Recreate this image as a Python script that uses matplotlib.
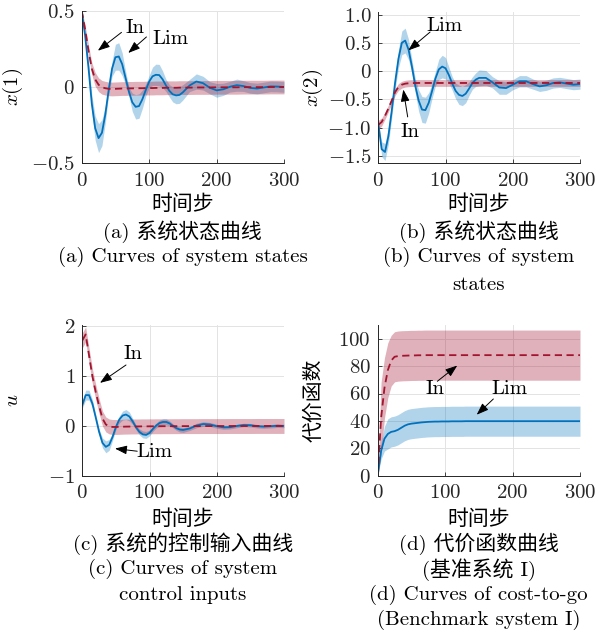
import numpy as np
import matplotlib
matplotlib.use("Agg")
import matplotlib.pyplot as plt

# time grid shared by every curve
steps = list(range(0, 151, 5)) + list(range(160, 301, 10))

# state x(1): learned controller (Lim) and initial controller (In), mean and spread
x1_lim = [0.50, 0.34, 0.13, -0.11, -0.27, -0.335, -0.30, -0.18, -0.02, 0.12, 0.195,
          0.20, 0.15, 0.06, -0.03, -0.10, -0.13, -0.125, -0.08, -0.02, 0.035,
          0.07, 0.08, 0.078, 0.05, 0.01, -0.025, -0.048, -0.055, -0.052, -0.035,
          0.01, 0.036, 0.025, -0.005, -0.022, -0.015, 0.002, 0.012, 0.006, -0.006,
          -0.01, -0.003, 0.004, 0.003, 0.0]
x1_lim_sd = [0.0, 0.02, 0.04, 0.06, 0.08, 0.095, 0.085, 0.055, 0.03, 0.05, 0.085,
             0.09, 0.075, 0.045, 0.03, 0.06, 0.08, 0.08, 0.06, 0.04, 0.04,
             0.06, 0.07, 0.07, 0.055, 0.04, 0.04, 0.05, 0.055, 0.055, 0.05,
             0.04, 0.05, 0.045, 0.04, 0.045, 0.04, 0.035, 0.04, 0.035, 0.035,
             0.035, 0.035, 0.035, 0.035, 0.035]
x1_in = [0.50, 0.38, 0.24, 0.12, 0.05, 0.015, -0.002, -0.008, -0.012, -0.013, -0.012,
         -0.011, -0.010, -0.010, -0.009, -0.009, -0.008, -0.008, -0.008, -0.007, -0.007,
         -0.007, -0.006, -0.006, -0.006, -0.005, -0.005, -0.005, -0.005, -0.004, -0.004,
         -0.004, -0.003, -0.003, -0.003, -0.002, -0.002, -0.002, -0.002, -0.001, -0.001,
         -0.001, -0.001, 0.0, 0.0, 0.0]
x1_in_sd = [0.01, 0.025, 0.035, 0.04] + [0.045] * 42

# state x(2)
x2_lim = [-0.93, -1.38, -1.43, -1.15, -0.70, -0.20, 0.22, 0.50, 0.54, 0.38, 0.08,
          -0.26, -0.52, -0.68, -0.69, -0.56, -0.35, -0.13, 0.03, 0.08, 0.05,
          -0.07, -0.22, -0.35, -0.42, -0.44, -0.40, -0.31, -0.21, -0.15, -0.12,
          -0.12, -0.20, -0.29, -0.30, -0.24, -0.18, -0.18, -0.23, -0.27, -0.25,
          -0.21, -0.20, -0.22, -0.24, -0.23]
x2_lim_sd = [0.02, 0.13, 0.15, 0.14, 0.12, 0.12, 0.16, 0.21, 0.22, 0.18, 0.12,
             0.13, 0.19, 0.23, 0.23, 0.18, 0.13, 0.13, 0.18, 0.20, 0.19,
             0.14, 0.12, 0.14, 0.17, 0.17, 0.16, 0.12, 0.11, 0.12, 0.14,
             0.13, 0.10, 0.12, 0.11, 0.09, 0.10, 0.10, 0.09, 0.09, 0.09,
             0.09, 0.09, 0.09, 0.09, 0.09]
x2_in = [-0.95, -0.90, -0.79, -0.66, -0.52, -0.37, -0.28, -0.24, -0.222, -0.215, -0.212,
         -0.211] + [-0.21] * 34
x2_in_sd = [0.08, 0.07] + [0.06] * 44

# control input u
u_lim = [0.42, 0.62, 0.62, 0.45, 0.17, -0.12, -0.34, -0.42, -0.38, -0.22, -0.02,
         0.13, 0.21, 0.23, 0.19, 0.09, -0.03, -0.12, -0.17, -0.18, -0.14,
         -0.06, 0.01, 0.06, 0.08, 0.08, 0.05, 0.0, -0.045, -0.072, -0.08,
         -0.05, 0.01, 0.04, 0.03, -0.005, -0.028, -0.025, 0.0, 0.02, 0.015,
         -0.005, -0.012, -0.005, 0.005, 0.0]
u_lim_sd = [0.06, 0.10, 0.10, 0.08, 0.06, 0.06, 0.10, 0.12, 0.11, 0.07, 0.05,
            0.07, 0.09, 0.10, 0.09, 0.06, 0.05, 0.06, 0.07, 0.07, 0.06,
            0.05, 0.05, 0.06, 0.06, 0.06, 0.05, 0.04, 0.045, 0.05, 0.05,
            0.04, 0.045, 0.045, 0.04, 0.04, 0.04, 0.035, 0.035, 0.035, 0.035,
            0.035, 0.035, 0.035, 0.035, 0.035]
u_in = [1.72, 1.84, 1.42, 1.00, 0.68, 0.40, 0.15, 0.03, -0.01, -0.02, -0.02,
        -0.018, -0.015, -0.013, -0.012, -0.010, -0.010, -0.009, -0.008, -0.008, -0.007,
        -0.007, -0.006, -0.006, -0.005, -0.005, -0.005, -0.004, -0.004, -0.004, -0.003,
        -0.003, -0.003, -0.002, -0.002, -0.002, -0.002, -0.001, -0.001, -0.001, -0.001,
        0.0, 0.0, 0.0, 0.0, 0.0]
u_in_sd = [0.15] * 46

# cost-to-go
cost_lim = [0.0, 18.0, 27.0, 30.5, 32.0, 32.5, 33.5, 35.0, 36.5, 37.5, 38.0,
            38.3, 38.6, 38.9, 39.1, 39.3, 39.4, 39.5, 39.5, 39.6, 39.6,
            39.6, 39.7, 39.7, 39.7, 39.7, 39.8, 39.8, 39.8, 39.8, 39.8] + [39.8] * 15
cost_lim_sd = [0.0, 6.0, 9.0, 11.0, 11.0, 11.0] + [11.0] * 40
cost_in = [0.0, 42.0, 64.0, 77.0, 84.0, 86.8, 87.3, 87.5, 87.6, 87.7, 87.8,
           87.8, 87.9, 87.9, 88.0] + [88.0] * 31
cost_in_sd = [0.0, 26.0, 22.0, 20.0, 18.5] + [18.3] * 41

# ticks
x_ticks = [0, 100, 200, 300]
x_tick_labels = ['$0$', '$100$', '$200$', '$300$']
x1_ticks = [-0.5, 0, 0.5]
x1_tick_labels = ['$-0.5$', '$0$', '$0.5$']
x2_ticks = [-1.5, -1.0, -0.5, 0, 0.5, 1.0]
x2_tick_labels = ['$-1.5$', '$-1.0$', '$-0.5$', '$0$', '$0.5$', '$1.0$']
u_ticks = [-1, 0, 1, 2]
u_tick_labels = ['$-1$', '$0$', '$1$', '$2$']
cost_ticks = [0, 20, 40, 60, 80, 100]
cost_tick_labels = ['$0$', '$20$', '$40$', '$60$', '$80$', '$100$']

plt.rcParams['font.family'] = ['cmr10', 'Noto Sans CJK SC']
plt.rcParams['mathtext.fontset'] = 'cm'
plt.rcParams['axes.unicode_minus'] = False

BLUE = '#0072BD'
RED = '#A2142F'
FS = 15
W, H = 600, 637


def rect(left, top, right, bottom):
    # pixel box -> figure fraction
    return [left / W, 1 - bottom / H, (right - left) / W, (bottom - top) / H]


def draw_panel(ax, lim, lim_sd, inn, inn_sd, ylim, yticks, yticklabels, ylabel):
    t = np.array(steps)
    lim, lim_sd = np.array(lim), np.array(lim_sd)
    inn, inn_sd = np.array(inn), np.array(inn_sd)
    ax.fill_between(t, lim - lim_sd, lim + lim_sd, color=BLUE, alpha=0.3, lw=0)
    ax.fill_between(t, inn - inn_sd, inn + inn_sd, color=RED, alpha=0.33, lw=0)
    ax.plot(t, lim, color=BLUE, lw=1.3)
    ax.plot(t, inn, color=RED, lw=1.3, ls=(0, (4, 2.5)))
    ax.set_xlim(0, 300)
    ax.set_ylim(*ylim)
    ax.set_xticks(x_ticks)
    ax.set_xticklabels(x_tick_labels)
    ax.set_yticks(yticks)
    ax.set_yticklabels(yticklabels)
    ax.tick_params(direction='in', length=3, width=0.6, color='#262626',
                   labelsize=FS, labelcolor='#262626')
    ax.tick_params(axis='x', pad=6)
    ax.tick_params(axis='y', pad=5)
    ax.grid(True, color='#e3e3e3', lw=0.7)
    ax.set_axisbelow(True)
    for side in ('top', 'right'):
        ax.spines[side].set_visible(False)
    for side in ('left', 'bottom'):
        ax.spines[side].set_color('#262626')
        ax.spines[side].set_linewidth(0.7)
    ax.set_ylabel(ylabel, fontsize=FS)


def label_arrow(ax, text, text_xy, tail, tip):
    ax.annotate('', xy=tip, xytext=tail,
                arrowprops=dict(arrowstyle='-|>,head_length=0.6,head_width=0.22',
                                mutation_scale=12, color='k', lw=0.7,
                                shrinkA=0, shrinkB=0))
    ax.text(*text_xy, text, fontsize=FS, ha='center', va='center')


fig = plt.figure(figsize=(6, 6.37), dpi=100)

ax_a = fig.add_axes(rect(81.7, 10.7, 284, 163.3))
draw_panel(ax_a, x1_lim, x1_lim_sd, x1_in, x1_in_sd, (-0.5, 0.5),
           x1_ticks, x1_tick_labels, '$x(1)$')
label_arrow(ax_a, 'In', (79, 0.387), (59, 0.358), (24, 0.238))
label_arrow(ax_a, 'Lim', (131, 0.315), (96, 0.328), (69, 0.223))

ax_b = fig.add_axes(rect(378.3, 11.7, 580, 163.3))
draw_panel(ax_b, x2_lim, x2_lim_sd, x2_in, x2_in_sd, (-1.63, 1.05),
           x2_ticks, x2_tick_labels, '$x(2)$')
label_arrow(ax_b, 'Lim', (99, 0.79), (77, 0.69), (44.6, 0.366))
label_arrow(ax_b, 'In', (47, -1.07), (43.7, -0.81), (37.2, -0.326))

ax_c = fig.add_axes(rect(82.3, 325, 284, 475.7))
draw_panel(ax_c, u_lim, u_lim_sd, u_in, u_in_sd, (-1, 2.03),
           u_ticks, u_tick_labels, '$u$')
label_arrow(ax_c, 'In', (75.7, 1.446), (65, 1.226), (26.3, 0.866))
label_arrow(ax_c, 'Lim', (108, -0.52), (81.7, -0.508), (48.6, -0.454))

ax_d = fig.add_axes(rect(377.7, 325, 580, 475.7))
draw_panel(ax_d, cost_lim, cost_lim_sd, cost_in, cost_in_sd, (0, 110),
           cost_ticks, cost_tick_labels, '代价函数')
label_arrow(ax_d, 'In', (85, 62.9), (88.4, 68.9), (118, 80.4))
label_arrow(ax_d, 'Lim', (195, 63.4), (171.5, 56), (146.8, 44.5))

ax_a.yaxis.set_label_coords(-0.28, 0.5)
ax_b.yaxis.set_label_coords(-0.264, 0.5)
ax_c.yaxis.set_label_coords(-0.30, 0.5)
ax_d.yaxis.set_label_coords(-0.27, 0.5)

# x labels and captions under each panel: (center x, center y) in pixels
captions = [
    (182.8, [(204, '时间步'), (231.7, '(a) 系统状态曲线'),
             (257, '(a) Curves of system states')]),
    (479, [(204, '时间步'), (231.7, '(b) 系统状态曲线'),
           (257, '(b) Curves of system'), (285, 'states')]),
    (183, [(519, '时间步'), (544, '(c) 系统的控制输入曲线'),
           (569, '(c) Curves of system'), (595, 'control inputs')]),
    (478.8, [(519, '时间步'), (544, '(d) 代价函数曲线'), (570, '(基准系统 I)'),
             (595, '(d) Curves of cost-to-go'), (620, '(Benchmark system I)')]),
]
for cx, lines in captions:
    for cy, txt in lines:
        fig.text(cx / W, 1 - cy / H, txt, fontsize=FS, ha='center', va='center')

fig.savefig('out.png', dpi=100)
